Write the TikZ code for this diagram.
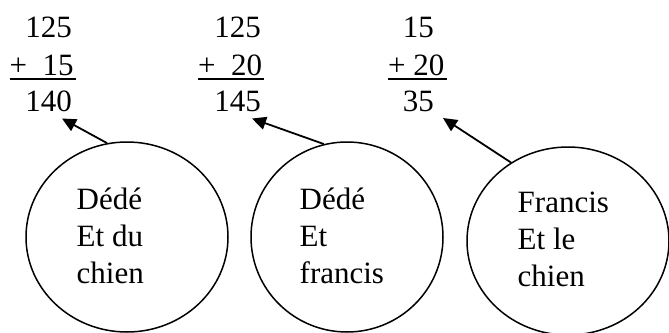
\documentclass[tikz,border=0pt]{standalone}
\usepackage{fontspec}
\setmainfont{Liberation Serif}
\usetikzlibrary{arrows.meta,shapes.geometric}
\tikzset{
    nombre/.style={inner sep=0pt, font=\fontsize{31}{37}\selectfont},
    bulle/.style={draw=black, ellipse, line width=1.5pt, inner sep=0pt},
    etiq/.style={inner sep=0pt, align=left, anchor=west, font=\fontsize{31}{37}\selectfont},
    trait/.style={line width=1.8pt},
    fleche/.style={-{Triangle[length=14pt,width=13pt]}, line width=1.8pt}
}
\begin{document}
\begin{tikzpicture}[x=1pt, y=-1pt]
    \useasboundingbox (0,0) rectangle (669,332);
    % les trois additions
    \foreach \i/\xd/\xg/\a/\b/\s in {1/72/9.5/125/{+\ \ 15}/140, 2/261/198/125/{+\ \ 20}/145, 3/434/388/15/{+\ 20}/35}{
        \node[nombre, anchor=base east] (a\i) at (\xd,37.5) {\a};
        \node[nombre, anchor=base west] (b\i) at (\xg,75.5) {\b};
        \node[nombre, anchor=base east] (s\i) at (\xd,111.5) {\s};
        \draw[trait] ([yshift=-3.5pt]b\i.base west) -- ([xshift=2pt,yshift=-3.5pt]b\i.base east);
    }
    % les bulles
    \node[bulle, minimum width=202pt, minimum height=190pt] (c1) at (127,237) {};
    \node[bulle, minimum width=192pt, minimum height=190pt] (c2) at (347,237) {};
    \node[bulle, minimum width=202pt, minimum height=188pt] (c3) at (568,241) {};
    \node[etiq] (t1) at (76.5,235.4) {Dédé\\Et du\\chien};
    \node[etiq] (t2) at (299.5,235.4) {Dédé\\Et\\francis};
    \node[etiq] (t3) at (517.5,239.4) {Francis\\Et le\\chien};
    \draw[fleche] (c1.102) -- ([xshift=-10pt,yshift=-6.5pt]s1.south east);
    \draw[fleche] (c2.104) -- ([xshift=-9pt,yshift=-6.5pt]s2.south east);
    \draw[fleche] (c3.126) -- ([xshift=9pt,yshift=-6pt]s3.south east);
\end{tikzpicture}
\end{document}
